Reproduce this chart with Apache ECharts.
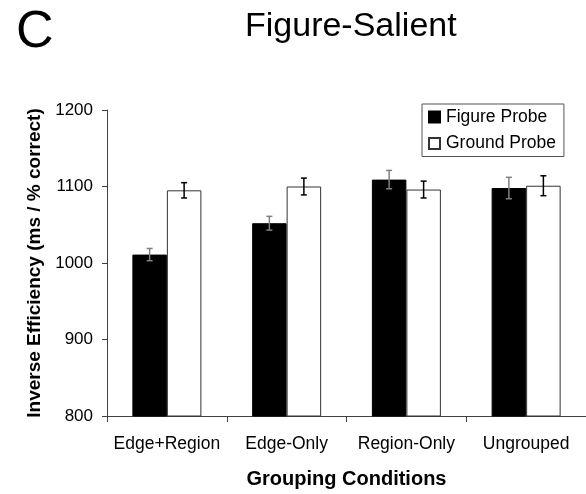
<!DOCTYPE html>
<html>
<head>
<meta charset="utf-8">
<script src="https://cdn.jsdelivr.net/npm/echarts@6/dist/echarts.min.js"></script>
<style>
html,body{margin:0;padding:0;background:#fff;}
#main{width:586px;height:494px;}
</style>
</head>
<body>
<div id="main"></div>
<script>
var categories = ['Edge+Region', 'Edge-Only', 'Region-Only', 'Ungrouped'];
var figureProbe = [1011, 1052, 1109, 1098];
var figureErr = [8, 9, 12, 14];
var groundProbe = [1095, 1100, 1096, 1101];
var groundErr = [10, 11, 11, 13];
var yTicks = [800, 900, 1000, 1100, 1200];

var FONT = "'Liberation Sans', Arial, sans-serif";
var BAR_W = 34.5;

function errSeries(name, vals, errs, offset, color) {
  return {
    type: 'custom',
    name: name + ' err',
    z: 10,
    silent: true,
    data: vals.map(function (v, i) { return [i, v, errs[i]]; }),
    renderItem: function (params, api) {
      var i = api.value(0), v = api.value(1), e = api.value(2);
      var top = api.coord([i, v + e]);
      var bot = api.coord([i, v - e]);
      var x = top[0] + offset;
      var cw = 3;
      var style = { stroke: color, lineWidth: 1.5 };
      return {
        type: 'group',
        children: [
          { type: 'line', shape: { x1: x, y1: top[1], x2: x, y2: bot[1] }, style: style },
          { type: 'line', shape: { x1: x - cw, y1: top[1], x2: x + cw, y2: top[1] }, style: style },
          { type: 'line', shape: { x1: x - cw, y1: bot[1], x2: x + cw, y2: bot[1] }, style: style }
        ]
      };
    }
  };
}

var chart = echarts.init(document.getElementById('main'), null, { renderer: 'canvas' });
chart.setOption({
  animation: false,
  backgroundColor: '#fff',
  textStyle: { fontFamily: FONT },
  title: {
    text: 'Figure-Salient',
    left: 240,
    top: 5,
    textStyle: { fontFamily: FONT, fontSize: 34, fontWeight: 'normal', color: '#000' }
  },
  graphic: [{
    type: 'text',
    left: 16,
    top: 7,
    style: { text: 'C', font: "52px 'Liberation Sans', Arial, sans-serif", fill: '#000' }
  }],
  legend: {
    orient: 'vertical',
    left: 422,
    top: 104,
    padding: [4, 8, 4, 6],
    itemGap: 8.5,
    itemWidth: 11,
    itemHeight: 11,
    icon: 'rect',
    borderColor: '#555',
    borderWidth: 1,
    textStyle: { fontFamily: FONT, fontSize: 17.5, color: '#000', padding: [0, 0, 0, 1] },
    data: ['Figure Probe', 'Ground Probe']
  },
  grid: { left: 107, right: -5, top: 110, bottom: 78, containLabel: false },
  xAxis: {
    type: 'category',
    data: categories,
    boundaryGap: true,
    name: 'Grouping Conditions',
    nameLocation: 'middle',
    nameGap: 53,
    nameTextStyle: { fontFamily: FONT, fontSize: 20, fontWeight: 'bold', color: '#000' },
    axisLine: { lineStyle: { color: '#404040', width: 1 } },
    axisTick: { show: true, alignWithLabel: false, length: 6, lineStyle: { color: '#404040' } },
    axisLabel: { margin: 19, fontFamily: FONT, fontSize: 17.5, color: '#000', interval: 0 },
    splitLine: { show: false }
  },
  yAxis: {
    type: 'value',
    min: yTicks[0],
    max: yTicks[yTicks.length - 1],
    interval: 100,
    name: 'Inverse Efficiency (ms / % correct)',
    nameLocation: 'middle',
    nameGap: 62,
    nameTextStyle: { fontFamily: FONT, fontSize: 19, fontWeight: 'bold', color: '#000' },
    axisLine: { show: true, lineStyle: { color: '#404040', width: 1 } },
    axisTick: { show: true, length: 5, lineStyle: { color: '#404040' } },
    axisLabel: {
      margin: 14, fontFamily: FONT, fontSize: 17, color: '#000',
      formatter: function (v) { return String(v); }
    },
    splitLine: { show: false }
  },
  series: [
    {
      name: 'Figure Probe',
      type: 'bar',
      data: figureProbe,
      barWidth: BAR_W,
      barGap: '0%',
      itemStyle: { color: '#000', borderColor: '#000', borderWidth: 1 }
    },
    {
      name: 'Ground Probe',
      type: 'bar',
      data: groundProbe,
      barWidth: BAR_W,
      barGap: '0%',
      itemStyle: { color: '#fff', borderColor: '#333', borderWidth: 1 }
    },
    errSeries('Figure Probe', figureProbe, figureErr, -BAR_W / 2, '#808080'),
    errSeries('Ground Probe', groundProbe, groundErr, BAR_W / 2, '#000')
  ]
});
</script>
</body>
</html>
